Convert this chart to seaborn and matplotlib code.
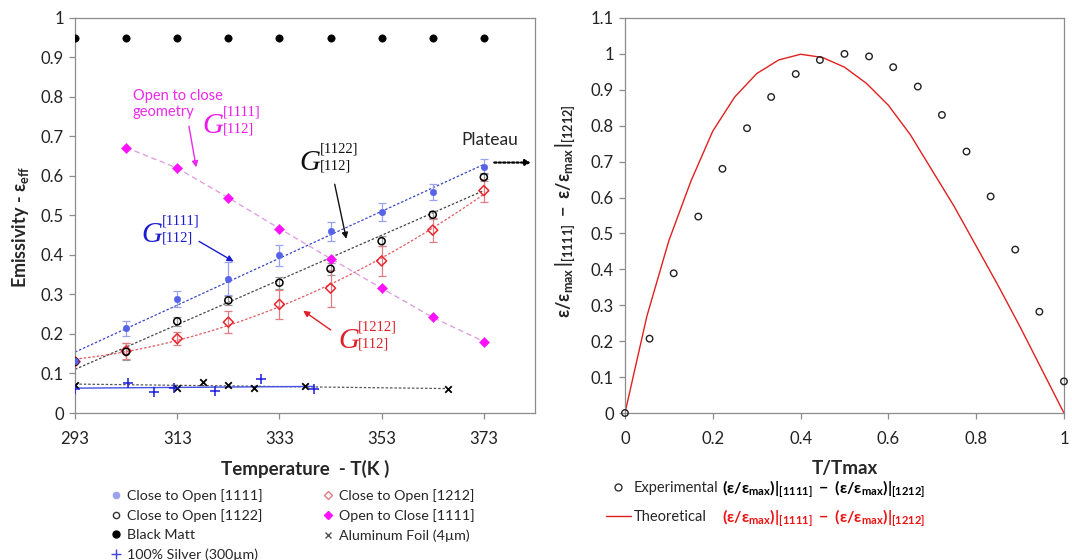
# --- IMPORTS ---
import numpy as np
import matplotlib
matplotlib.use("Agg")
import matplotlib.pyplot as plt
import matplotlib.transforms as mtransforms
from matplotlib.lines import Line2D
from matplotlib.ticker import MultipleLocator, FuncFormatter
import seaborn as sns

# --- DATA ---
temps = [293, 303, 313, 323, 333, 343, 353, 363, 373]
c2o_1111 = [0.132, 0.214, 0.289, 0.340, 0.399, 0.460, 0.509, 0.559, 0.624]
c2o_1111_err = [0.0, 0.019, 0.021, 0.042, 0.027, 0.024, 0.022, 0.021, 0.018]
c2o_1122 = [0.130, 0.155, 0.232, 0.285, 0.330, 0.365, 0.435, 0.502, 0.597]
c2o_1122_err = [0.0, 0.022, 0.012, 0.012, 0.015, 0.015, 0.012, 0.010, 0.010]
c2o_1212 = [0.130, 0.157, 0.188, 0.230, 0.275, 0.316, 0.385, 0.463, 0.563]
c2o_1212_err = [0.0, 0.021, 0.016, 0.027, 0.037, 0.047, 0.037, 0.030, 0.030]
o2c_temps = [303, 313, 323, 333, 343, 353, 363, 373]
o2c_1111 = [0.672, 0.620, 0.545, 0.467, 0.391, 0.316, 0.242, 0.181]
black_matt = [0.95, 0.95, 0.95, 0.95, 0.95, 0.95, 0.95, 0.95, 0.95]
foil_temps = [293, 313, 318, 323, 328, 338, 366]
foil = [0.072, 0.064, 0.078, 0.070, 0.064, 0.069, 0.060]
silver_temps = [293, 303.4, 308.4, 312.3, 320.3, 329.4, 339.8]
silver = [0.062, 0.076, 0.052, 0.064, 0.056, 0.085, 0.060]

exp_x = [0, 0.056, 0.111, 0.167, 0.222, 0.278, 0.333, 0.389, 0.444, 0.5,
         0.556, 0.611, 0.667, 0.722, 0.778, 0.833, 0.889, 0.944, 1.0]
exp_y = [0, 0.207, 0.389, 0.547, 0.680, 0.793, 0.880, 0.944, 0.983, 1.0,
         0.993, 0.963, 0.909, 0.830, 0.728, 0.603, 0.455, 0.282, 0.088]
theo_x = [0, 0.05, 0.1, 0.15, 0.2, 0.25, 0.3, 0.35, 0.4, 0.45, 0.5,
          0.55, 0.6, 0.65, 0.7, 0.75, 0.8, 0.85, 0.9, 0.95, 1.0]
theo_y = [0, 0.27, 0.48, 0.645, 0.785, 0.88, 0.945, 0.983, 0.999, 0.99, 0.963,
          0.918, 0.857, 0.775, 0.675, 0.575, 0.465, 0.355, 0.24, 0.12, 0.0]

legend_left = ["Close to Open [1111]", "Close to Open [1122]", "Black Matt",
               "100% Silver (300\u00b5m)", "Close to Open [1212]",
               "Open to Close [1111]", "Aluminum Foil (4\u00b5m)"]

# --- COLOURS ---
BLUE = "#5563e8"
BLUE_ERR = "#9aa2ee"
RED = "#e8262e"
RED_ERR = "#e07d82"
MAGENTA = "#ff10ff"
GRAY = "#8c8c8c"

# --- STYLE ---
sns.set_theme(style="white")
plt.rcParams["font.family"] = ["Lato", "DejaVu Sans"]
plt.rcParams["mathtext.fontset"] = "custom"
plt.rcParams["mathtext.rm"] = "Lato"
plt.rcParams["mathtext.it"] = "Lato:italic"
plt.rcParams["mathtext.bf"] = "Lato:bold"
plt.rcParams["mathtext.fallback"] = "stixsans"

fig = plt.figure(figsize=(10.72, 5.6), dpi=100)
ax1 = fig.add_axes([0.070, 0.2625, 0.429, 0.7054])
ax2 = fig.add_axes([0.583, 0.2625, 0.4095, 0.7054])

fmt = FuncFormatter(lambda v, p: "%g" % round(v, 2))


def style_axes(ax):
    for sp in ax.spines.values():
        sp.set_color(GRAY)
        sp.set_linewidth(0.9)
    ax.tick_params(axis="both", direction="out", length=4, width=0.9,
                   color=GRAY, labelsize=12, labelcolor="#222222",
                   bottom=True, left=True)
    ax.tick_params(axis="x", pad=9)
    ax.tick_params(axis="y", pad=4)
    ax.yaxis.set_major_formatter(fmt)
    ax.xaxis.set_major_formatter(fmt)


def g_label(ax, t, v, sup, sub, color):
    serif = "Liberation Serif"
    ax.text(t, v, "G", fontsize=21, family=serif, style="italic",
            color=color, ha="left", va="baseline")
    tr_sup = mtransforms.offset_copy(ax.transData, fig=ax.figure, x=14.5, y=12.5, units="points")
    ax.text(t, v, sup, transform=tr_sup, fontsize=10.5, family=serif,
            color=color, ha="left", va="baseline")
    tr_sub = mtransforms.offset_copy(ax.transData, fig=ax.figure, x=14.5, y=0.5, units="points")
    ax.text(t, v, sub, transform=tr_sub, fontsize=10.5, family=serif,
            color=color, ha="left", va="baseline")


# --- LEFT: EMISSIVITY VS TEMPERATURE ---
# trend lines
sns.regplot(x=temps, y=c2o_1111, ax=ax1, scatter=False, ci=None,
            line_kws=dict(color="#3b45c6", lw=0.9, ls=(0, (2, 1.5))))
sns.regplot(x=temps, y=c2o_1122, ax=ax1, scatter=False, ci=None,
            line_kws=dict(color="#444444", lw=0.9, ls=(0, (2, 1.5))))
sns.regplot(x=temps, y=c2o_1212, ax=ax1, scatter=False, ci=None, order=2,
            line_kws=dict(color="#e05a60", lw=0.9, ls=(0, (2, 1.5))))
sns.regplot(x=foil_temps, y=foil, ax=ax1, scatter=False, ci=None,
            line_kws=dict(color="#555555", lw=0.9, ls=(0, (2, 1.5))))
sns.regplot(x=silver_temps, y=silver, ax=ax1, scatter=False, ci=None,
            line_kws=dict(color="#4452e6", lw=1.0, ls="-"))
sns.lineplot(x=o2c_temps, y=o2c_1111, ax=ax1, color="#e2a0e2", lw=1.0,
             linestyle=(0, (4, 2.5)))

# error bars
ax1.errorbar(temps, c2o_1111, yerr=c2o_1111_err, fmt="none", ecolor=BLUE_ERR,
             elinewidth=0.9, capsize=3, capthick=0.9)
ax1.errorbar(temps, c2o_1122, yerr=c2o_1122_err, fmt="none", ecolor="#999999",
             elinewidth=0.9, capsize=3, capthick=0.9)
ax1.errorbar(temps, c2o_1212, yerr=c2o_1212_err, fmt="none", ecolor=RED_ERR,
             elinewidth=0.9, capsize=3, capthick=0.9)

# markers
sns.scatterplot(x=temps, y=black_matt, ax=ax1, color="black", s=28,
                edgecolor="black", zorder=4)
sns.scatterplot(x=o2c_temps, y=o2c_1111, ax=ax1, marker="D", color=MAGENTA,
                s=26, edgecolor=MAGENTA, zorder=4)
sns.scatterplot(x=temps, y=c2o_1212, ax=ax1, marker="D", color=RED,
                facecolor="none", edgecolor=RED, linewidth=1.1, s=26, zorder=4)
sns.scatterplot(x=temps, y=c2o_1122, ax=ax1, marker="o", color="black",
                facecolor="none", edgecolor="black", linewidth=1.1, s=26, zorder=4)
sns.scatterplot(x=temps, y=c2o_1111, ax=ax1, marker="o", color=BLUE,
                s=22, edgecolor=BLUE, zorder=5)
sns.scatterplot(x=foil_temps, y=foil, ax=ax1, marker="x", color="black",
                s=22, linewidth=1.3, zorder=4)
sns.scatterplot(x=silver_temps, y=silver, ax=ax1, marker="+", color="#1d1de0",
                s=60, linewidth=1.1, zorder=4)

ax1.set_xlim(293, 383)
ax1.set_ylim(0, 1)
ax1.set_xticks([293, 313, 333, 353, 373])
ax1.yaxis.set_major_locator(MultipleLocator(0.1))
style_axes(ax1)
ax1.set_xlabel("Temperature  - T(K )", fontsize=13.5, fontweight="bold", labelpad=9)
ax1.set_ylabel(r"Emissivity - $\mathbf{\varepsilon_{eff}}$", fontsize=13,
               fontweight="bold")
ax1.yaxis.set_label_coords(-0.095, 0.47)

# annotations
ax1.text(304.3, 0.793, "Open to close", color="#ee28ee", fontsize=10.5,
         ha="left", va="baseline")
ax1.text(304.3, 0.752, "geometry", color="#ee28ee", fontsize=10.5,
         ha="left", va="baseline")
g_label(ax1, 318.0, 0.709, "[1111]", "[112]", "#ee18ee")
ax1.annotate("", xy=(316.8, 0.615), xytext=(315.2, 0.733),
             arrowprops=dict(arrowstyle="-|>", color="#ee28ee", lw=1.0, mutation_scale=9))
g_label(ax1, 306.0, 0.433, "[1111]", "[112]", "#1c1cd0")
ax1.annotate("", xy=(324.5, 0.380), xytext=(316.8, 0.438),
             arrowprops=dict(arrowstyle="-|>", color="#1c1cd0", lw=1.0, mutation_scale=9))
g_label(ax1, 337.0, 0.615, "[1122]", "[112]", "#111111")
ax1.annotate("", xy=(346.2, 0.434), xytext=(343.7, 0.586),
             arrowprops=dict(arrowstyle="-|>", color="#111111", lw=1.0, mutation_scale=9))
g_label(ax1, 344.5, 0.164, "[1212]", "[112]", "#e02028")
ax1.annotate("", xy=(337.2, 0.263), xytext=(343.5, 0.206),
             arrowprops=dict(arrowstyle="-|>", color="#e02028", lw=1.0, mutation_scale=9))
ax1.text(374.2, 0.691, "Plateau", fontsize=12.5, ha="center", va="center")
ax1.annotate("", xy=(382.8, 0.634), xytext=(374.5, 0.634), annotation_clip=False,
             arrowprops=dict(arrowstyle="-|>", color="black", lw=1.6,
                             ls=(0, (1, 1)), mutation_scale=8))

# legend under the left panel
handles_left = [
    Line2D([], [], ls="none", marker="o", ms=4.5, mfc=BLUE_ERR, mec=BLUE_ERR),
    Line2D([], [], ls="none", marker="o", ms=4.5, mfc="none", mec="#333333"),
    Line2D([], [], ls="none", marker="o", ms=5, mfc="black", mec="black"),
    Line2D([], [], ls="none", marker="+", ms=7, mec="#3b45d6"),
    Line2D([], [], ls="none", marker="D", ms=4, mfc="none", mec=RED_ERR),
    Line2D([], [], ls="none", marker="D", ms=4, mfc=MAGENTA, mec=MAGENTA),
    Line2D([], [], ls="none", marker="x", ms=4.5, mec="#555555"),
]
ax1.legend(handles_left, legend_left, loc="upper left",
           bbox_to_anchor=(112 / 1072, 1 - 489 / 560), bbox_transform=fig.transFigure,
           ncol=2, frameon=False, fontsize=10.3, handlelength=0.6, handletextpad=0.45,
           columnspacing=4.3, labelspacing=0.5, borderpad=0, borderaxespad=0)

# --- RIGHT: NORMALISED DIFFERENCE ---
sns.lineplot(x=theo_x, y=theo_y, ax=ax2, color="#e02020", lw=1.0)
sns.scatterplot(x=exp_x, y=exp_y, ax=ax2, marker="o", color="black",
                facecolor="none", edgecolor="#222222", linewidth=1.0, s=22,
                zorder=4, clip_on=False)
ax2.set_xlim(0, 1)
ax2.set_ylim(0, 1.1)
ax2.xaxis.set_major_locator(MultipleLocator(0.2))
ax2.yaxis.set_major_locator(MultipleLocator(0.1))
style_axes(ax2)
ax2.set_xlabel("T/Tmax", fontsize=13.5, fontweight="bold", labelpad=9)
ax2.set_ylabel(r"$\mathbf{\varepsilon/\varepsilon_{max}\,|_{[1111]}\ -\ \varepsilon/\varepsilon_{max}\,|_{[1212]}}$",
               fontsize=13)
ax2.yaxis.set_label_coords(-0.11, 0.51)

handles_right = [
    Line2D([], [], ls="none", marker="o", ms=5, mfc="none", mec="#333333"),
    Line2D([], [], color="#e02020", lw=1.0),
]
ax2.legend(handles_right, ["Experimental", "Theoretical"], loc="upper left",
           bbox_to_anchor=(606 / 1072, 1 - 481 / 560), bbox_transform=fig.transFigure,
           frameon=False, fontsize=10.5, handlelength=1.7, handletextpad=0.2,
           labelspacing=1.05, borderpad=0, borderaxespad=0)
formula = r"$\mathbf{(\varepsilon/\varepsilon_{max})|_{[1111]}\ -\ (\varepsilon/\varepsilon_{max})|_{[1212]}}$"
fig.text(722 / 1072, 1 - 489 / 560, formula, fontsize=11.5, va="center", color="black")
fig.text(722 / 1072, 1 - 518 / 560, formula, fontsize=11.5, va="center", color="#ee1111")

fig.savefig("out.png", dpi=100)
plt.close(fig)
